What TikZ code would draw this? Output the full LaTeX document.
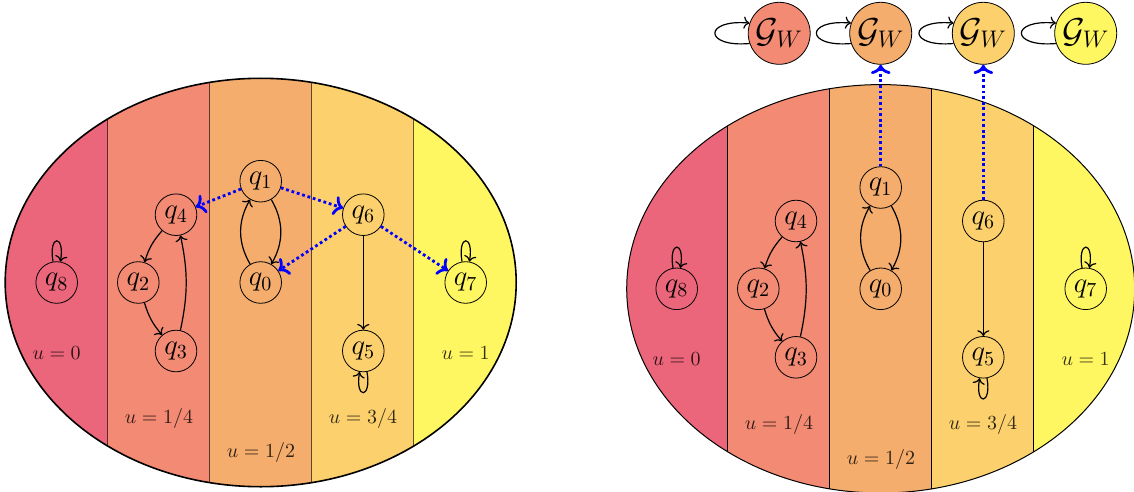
\documentclass[tikz,border=0pt]{standalone}
\usetikzlibrary{arrows.meta}
\definecolor{cA}{RGB}{236,102,123}
\definecolor{cB}{RGB}{242,138,116}
\definecolor{cC}{RGB}{244,173,109}
\definecolor{cD}{RGB}{252,209,109}
\definecolor{cE}{RGB}{255,247,98}
\tikzset{
  qn/.style={circle, draw, minimum size=20.8pt, inner sep=0pt, font=\Large},
  gw/.style={circle, draw, minimum size=31pt, inner sep=0pt, font=\LARGE},
  lbl/.style={font=\normalsize, text opacity=0.8},
  edge/.style={->, semithick},
  blu/.style={->, blue, line width=1.4pt, dash pattern=on 1.4pt off 1.4pt},
  stripeline/.style={draw=black, draw opacity=0.6, line width=0.45pt},
}
\begin{document}
\begin{tikzpicture}[x=0.5pt,y=-0.5pt]
\useasboundingbox (0,0) rectangle (1134,492);

% ---------------- left diagram ----------------
\begin{scope}
  \clip (260.7,282.5) ellipse [x radius=127.75pt, y radius=102.1pt];
  \fill[cA] (0,0) rectangle (107.5,492);
  \fill[cB] (107.5,0) rectangle (209.6,492);
  \fill[cC] (209.6,0) rectangle (311.8,492);
  \fill[cD] (311.8,0) rectangle (413.9,492);
  \fill[cE] (413.9,0) rectangle (560,492);
  \draw[stripeline] (107.5,0) -- (107.5,492);
  \draw[stripeline] (209.6,0) -- (209.6,492);
  \draw[stripeline] (311.8,0) -- (311.8,492);
  \draw[stripeline] (413.9,0) -- (413.9,492);
\end{scope}
\draw[line width=0.8pt] (260.7,282.5) ellipse [x radius=127.75pt, y radius=102.1pt];

\node[qn] (lq0) at (260.7,282.5) {$q_0$};
\node[qn] (lq1) at (260.7,181.2) {$q_1$};
\node[qn] (lq4) at (176,214.7) {$q_4$};
\node[qn] (lq2) at (138.3,282.5) {$q_2$};
\node[qn] (lq3) at (176,351) {$q_3$};
\node[qn] (lq8) at (56.7,282.5) {$q_8$};
\node[qn] (lq6) at (363.3,214.7) {$q_6$};
\node[qn] (lq5) at (363.3,351) {$q_5$};
\node[qn] (lq7) at (465.7,282.5) {$q_7$};

\node[lbl] (lu0) at (56.7,352.7) {$u=0$};
\node[lbl] (lu1) at (159,418.3) {$u=1/4$};
\node[lbl] (lu2) at (261,452.7) {$u=1/2$};
\node[lbl] (lu3) at (363,418.3) {$u=3/4$};
\node[lbl] (lu4) at (465.7,352.7) {$u=1$};

\draw[edge] (lq4) to[bend right=12] (lq2);
\draw[edge] (lq2) to[bend right=12] (lq3);
\draw[edge] (lq3) to[bend right=12] (lq4);
\draw[edge] (lq1) to[bend left=30] (lq0);
\draw[edge] (lq0) to[bend left=30] (lq1);
\draw[edge] (lq6) -- (lq5);
\draw[edge] (lq8.100) .. controls +(100:14pt) and +(80:14pt) .. (lq8.80);
\draw[edge] (lq7.100) .. controls +(100:14pt) and +(80:14pt) .. (lq7.80);
\draw[edge] (lq5.280) .. controls +(280:14pt) and +(260:14pt) .. (lq5.260);

\draw[blu] (lq1) -- (lq4);
\draw[blu] (lq1) -- (lq6);
\draw[blu] (lq6) -- (lq0);
\draw[blu] (lq6) -- (lq7);

% ---------------- right diagram ----------------
\begin{scope}
  \clip (880.7,288.8) ellipse [x radius=127pt, y radius=102.1pt];
  \fill[cA] (600,0) rectangle (727.5,520);
  \fill[cB] (727.5,0) rectangle (829.6,520);
  \fill[cC] (829.6,0) rectangle (931.8,520);
  \fill[cD] (931.8,0) rectangle (1033.9,520);
  \fill[cE] (1033.9,0) rectangle (1160,520);
  \draw[line width=0.45pt] (727.5,0) -- (727.5,520);
  \draw[line width=0.45pt] (829.6,0) -- (829.6,520);
  \draw[line width=0.45pt] (931.8,0) -- (931.8,520);
  \draw[line width=0.45pt] (1033.9,0) -- (1033.9,520);
\end{scope}
\draw[line width=0.5pt] (880.7,288.8) ellipse [x radius=127pt, y radius=102.1pt];

\node[qn] (rq0) at (880.7,288.8) {$q_0$};
\node[qn] (rq1) at (880.7,187.5) {$q_1$};
\node[qn] (rq4) at (796,221) {$q_4$};
\node[qn] (rq2) at (758.3,288.8) {$q_2$};
\node[qn] (rq3) at (796,357.3) {$q_3$};
\node[qn] (rq8) at (676.7,288.8) {$q_8$};
\node[qn] (rq6) at (983.3,221) {$q_6$};
\node[qn] (rq5) at (983.3,357.3) {$q_5$};
\node[qn] (rq7) at (1085.7,288.8) {$q_7$};

\node[lbl] (ru0) at (676.7,359) {$u=0$};
\node[lbl] (ru1) at (779,424.6) {$u=1/4$};
\node[lbl] (ru2) at (881,459) {$u=1/2$};
\node[lbl] (ru3) at (983,424.6) {$u=3/4$};
\node[lbl] (ru4) at (1085.7,359) {$u=1$};

\node[gw, fill=cB] (g1) at (779.2,33.3) {$\mathcal{G}_W$};
\node[gw, fill=cC] (g2) at (880.7,33.3) {$\mathcal{G}_W$};
\node[gw, fill=cD] (g3) at (983.3,33.3) {$\mathcal{G}_W$};
\node[gw, fill=cE] (g4) at (1085.7,33.3) {$\mathcal{G}_W$};

\draw[edge] (g1.199) .. controls +(-23pt,-2pt) and +(-23pt,2pt) .. (g1.161);
\draw[edge] (g2.199) .. controls +(-23pt,-2pt) and +(-23pt,2pt) .. (g2.161);
\draw[edge] (g3.199) .. controls +(-23pt,-2pt) and +(-23pt,2pt) .. (g3.161);
\draw[edge] (g4.199) .. controls +(-23pt,-2pt) and +(-23pt,2pt) .. (g4.161);

\draw[edge] (rq4) to[bend right=12] (rq2);
\draw[edge] (rq2) to[bend right=12] (rq3);
\draw[edge] (rq3) to[bend right=12] (rq4);
\draw[edge] (rq1) to[bend left=30] (rq0);
\draw[edge] (rq0) to[bend left=30] (rq1);
\draw[edge] (rq6) -- (rq5);
\draw[edge] (rq8.100) .. controls +(100:14pt) and +(80:14pt) .. (rq8.80);
\draw[edge] (rq7.100) .. controls +(100:14pt) and +(80:14pt) .. (rq7.80);
\draw[edge] (rq5.280) .. controls +(280:14pt) and +(260:14pt) .. (rq5.260);

\draw[blu] (rq1) -- (g2);
\draw[blu] (rq6) -- (g3);
\end{tikzpicture}
\end{document}
